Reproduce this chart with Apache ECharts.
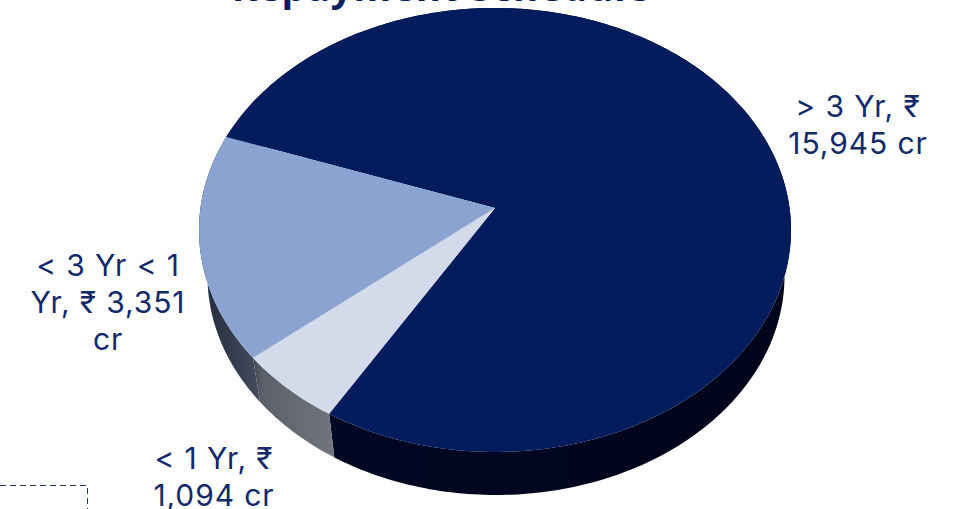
<!DOCTYPE html>
<html>
<head>
<meta charset="utf-8">
<title>Repayment Schedule</title>
<style>html,body{margin:0;padding:0;background:#fff}#chart{width:958px;height:509px;letter-spacing:0.9px}</style>
<script src="https://cdn.jsdelivr.net/npm/echarts@6/dist/echarts.min.js"></script>
</head>
<body>
<div id="chart"></div>
<script>
// Repayment buckets in ₹ crore, clockwise from the upper-left edge of the disc
const buckets = ['> 3 Yr', '< 1 Yr', '< 3 Yr < 1 Yr'];
const amounts = [15945, 1094, 3351];
const labelLines = [
  ['> 3 Yr, ₹', '15,945 cr'],
  ['< 1 Yr, ₹', '1,094 cr'],
  ['< 3 Yr < 1', 'Yr, ₹ 3,351', 'cr']
];
const faceColors = ['#001c5c', '#d3dbeb', '#8aa3d0'];
const wallStops = [
  ['#00164c', '#000824', '#00041a'],
  ['#434856', '#5c6069', '#72757d'],
  ['#141b2c', '#262d3e', '#454c5e']
];
const labelAnchors = [[858, 106], [214, 458], [108, 265]];

// Tilted disc: top face, the lower rim, and the view-dependent shift of its hub
const topFace = { cx: 495, cy: 230, rx: 296, ry: 222 };
const rimFace = { cx: 496, cy: 276, rx: 288.5, ry: 219 };
const tilt = -0.099;
const startDeg = 199.5;
const total = amounts.reduce((a, b) => a + b, 0);

// Maps an angle or the hub on a flat disc to the foreshortened ellipse
function project(face, c, s) {
  const d = 1 + tilt * s;
  return [
    face.cx + face.rx * c * Math.sqrt(1 - tilt * tilt) / d,
    face.cy + face.ry * (s + tilt) / d
  ];
}
function arc(face, a0, a1) {
  const pts = [];
  const n = Math.max(2, Math.ceil(Math.abs(a1 - a0) / 1));
  for (let i = 0; i <= n; i++) {
    const r = (a0 + (a1 - a0) * i / n) * Math.PI / 180;
    pts.push(project(face, Math.cos(r), Math.sin(r)));
  }
  return pts;
}

function renderSlice(params, api) {
  const i = params.dataIndex;
  const before = amounts.slice(0, i).reduce((a, b) => a + b, 0);
  const a0 = startDeg + before / total * 360;
  const a1 = a0 + api.value(0) / total * 360;
  const edgeTop = arc(topFace, a0, a1);
  const edgeRim = arc(rimFace, a0, a1).reverse();
  const stops = wallStops[i];
  const fontStyle = { fontFamily: 'Inter', fontSize: 30, fill: '#12296a', textAlign: 'center', textVerticalAlign: 'middle' };
  const texts = labelLines[i].map((line, k) => ({
    type: 'text',
    silent: true,
    style: Object.assign({ text: line, x: labelAnchors[i][0], y: labelAnchors[i][1] + k * 37 }, fontStyle)
  }));
  return {
    type: 'group',
    children: [
      {
        type: 'polygon',
        shape: { points: edgeTop.concat(edgeRim) },
        style: {
          fill: new echarts.graphic.LinearGradient(0, 0, 1, 0, [
            { offset: 0, color: stops[0] },
            { offset: 0.12, color: stops[1] },
            { offset: 1, color: stops[2] }
          ])
        }
      },
      {
        type: 'polygon',
        shape: { points: [project(topFace, 0, 0)].concat(edgeTop) },
        style: { fill: faceColors[i] }
      }
    ].concat(texts)
  };
}

const chart = echarts.init(document.getElementById('chart'), null, { renderer: 'svg' });
chart.setOption({
  animation: false,
  backgroundColor: '#ffffff',
  title: {
    text: 'Repayment Schedule',
    left: 436,
    top: -38,
    textAlign: 'center',
    textStyle: { fontFamily: 'Open Sans', fontWeight: 'bold', fontSize: 38.4, color: '#002060' }
  },
  series: [{
    type: 'custom',
    coordinateSystem: 'none',
    silent: true,
    data: amounts.map((v, i) => ({ name: buckets[i], value: [v] })),
    renderItem: renderSlice
  }],
  graphic: [{
    type: 'polyline',
    silent: true,
    shape: { points: [[0, 485.5], [87.5, 485.5], [87.5, 509]] },
    style: { fill: null, stroke: '#1f3566', lineWidth: 1, lineDash: [6, 4] }
  }]
});
</script>
</body>
</html>
